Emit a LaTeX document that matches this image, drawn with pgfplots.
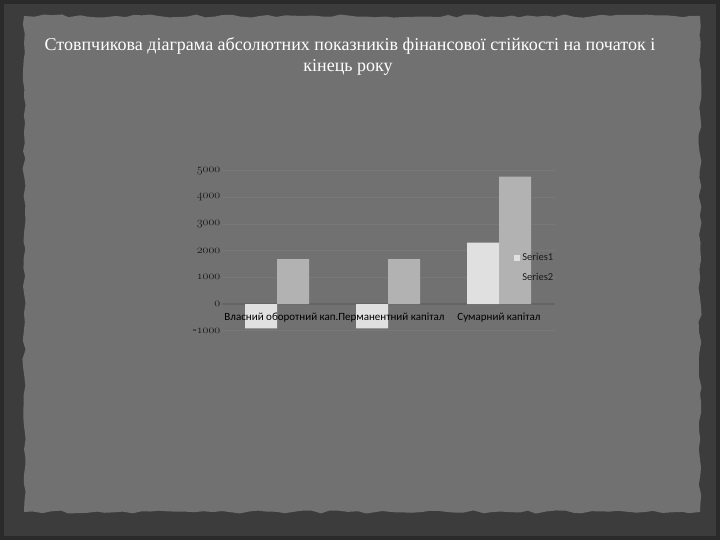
\documentclass[border=0pt]{standalone}
\usepackage{fontspec}
\setmainfont{Liberation Serif}
\newfontfamily\labfont{Carlito}
\usepackage{pgfplots}
\pgfplotsset{compat=1.18}
\usetikzlibrary{decorations.pathmorphing}
\definecolor{bgc}{HTML}{717171}
\definecolor{edgec}{HTML}{3C3C3C}
\definecolor{outerc}{HTML}{2A2A2A}
\definecolor{gridc}{HTML}{787878}
\definecolor{zeroc}{HTML}{646464}
\definecolor{sonec}{HTML}{E0E0E0}
\definecolor{stwoc}{HTML}{B2B2B2}
\definecolor{tickc}{HTML}{1A1A1A}
\begin{document}
\begin{tikzpicture}[x=1pt,y=1pt]
\fill[outerc] (0,0) rectangle (720,540);
\fill[edgec] (4,4) rectangle (716,536);
\fill[bgc, decorate, decoration={random steps, segment length=9pt, amplitude=1.6pt}]
  (24,28) -- (700,28) -- (700,524) -- (24,524) -- cycle;
\node[white, font=\fontsize{18}{21}\selectfont] at (350,494) {Стовпчикова діаграма абсолютних показників фінансової стійкості на початок і};
\node[white, font=\fontsize{18}{21}\selectfont] at (348,473) {кінець року};
\begin{axis}[
  at={(221.5pt,209.3pt)}, anchor=south west,
  scale only axis, width=333pt, height=160pt,
  clip=false,
  ybar=0pt, bar width=32pt,
  xmin=-0.5, xmax=2.5, ymin=-1000, ymax=5000,
  xtick={0,1,2},
  xticklabels={},
  ytick={-1000,0,1000,2000,3000,4000,5000},
  yticklabels={$\mbox{-}\mathnormal{1000}$,$\mathnormal{0}$,$\mathnormal{1000}$,$\mathnormal{2000}$,$\mathnormal{3000}$,$\mathnormal{4000}$,$\mathnormal{5000}$},
  axis line style={draw=none},
  major tick length=0pt,
  ymajorgrids, grid style={gridc, line width=0.6pt},
  extra y ticks={0}, extra y tick labels={},
  extra y tick style={grid style={zeroc, line width=1.3pt}},
  yticklabel style={font=\fontsize{12.5}{13}\selectfont, text=tickc, inner sep=1pt},
  legend style={draw=none, fill=none, at={(0.87,0.51)}, anchor=north west,
    font=\labfont\fontsize{10.5}{12}\selectfont, row sep=7pt, text=tickc},
  legend cell align=left,
]
\addplot[fill=sonec, draw=none,
  legend image code/.code={\fill[sonec] (0pt,-3pt) rectangle (6pt,3pt);}]
  coordinates {(0,-910) (1,-910) (2,2300)};
\addplot[fill=stwoc, draw=none,
  legend image code/.code={\path (0pt,-3pt) rectangle (6pt,3pt);}]
  coordinates {(0,1680) (1,1680) (2,4780)};
\legend{Series1, Series2}
\node[font=\labfont\fontsize{11}{12}\selectfont, text=black, inner sep=0pt] at (axis cs:0.04,0) [yshift=-14pt] {Власний оборотний кап.};
\node[font=\labfont\fontsize{11}{12}\selectfont, text=black, inner sep=0pt] at (axis cs:1.03,0) [yshift=-14pt] {Перманентний капітал};
\node[font=\labfont\fontsize{11}{12}\selectfont, text=black, inner sep=0pt] at (axis cs:2,0) [yshift=-14pt] {Сумарний капітал};
\end{axis}
\end{tikzpicture}
\end{document}
